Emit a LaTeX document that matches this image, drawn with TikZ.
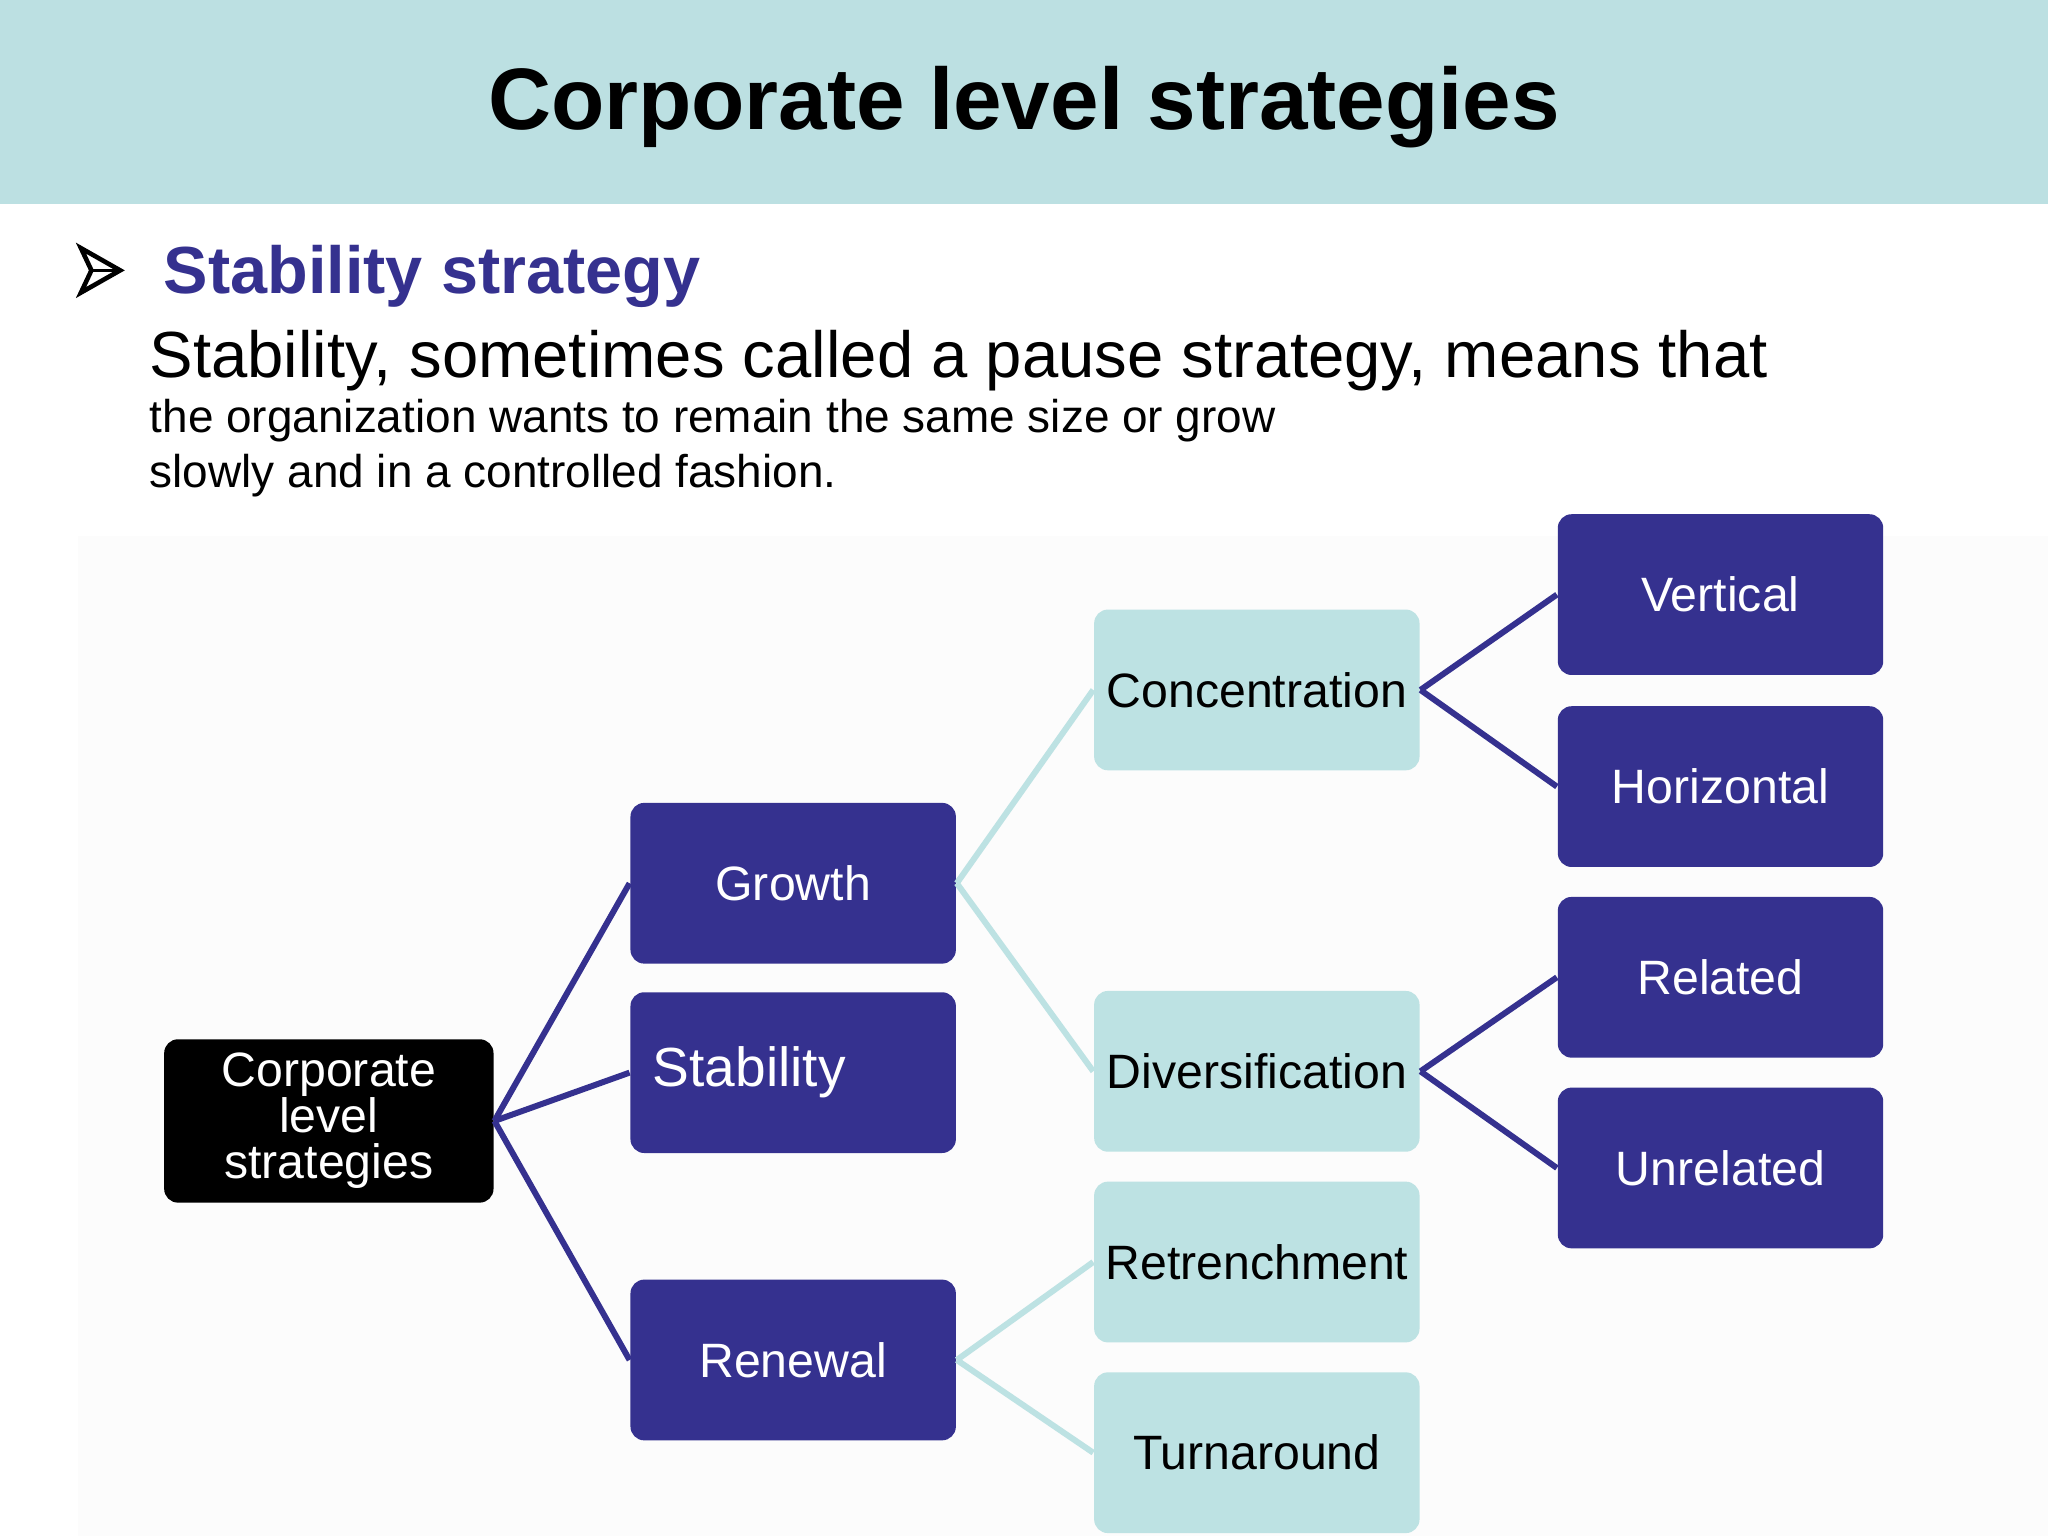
\documentclass[tikz,border=0pt]{standalone}
\usepackage{fontspec}
\setmainfont{Liberation Sans}
\definecolor{dblue}{HTML}{35318F}
\definecolor{lteal}{HTML}{BDE2E3}
\definecolor{band}{HTML}{BCE0E2}
\tikzset{
  px/.style={x=0.01cm,y=-0.01cm},
  bx/.style={rectangle,rounded corners=3pt,minimum width=2.49cm,minimum height=1.23cm,anchor=north west,font=\fontsize{10.5}{12}\selectfont,inner sep=0pt},
  dbox/.style={bx,fill=dblue,text=white},
  lbox/.style={bx,fill=lteal,text=black},
  dline/.style={draw=dblue,line width=1.3pt},
  lline/.style={draw=lteal,line width=1.3pt}
}
\begin{document}
\begin{tikzpicture}[px]
\useasboundingbox (0,0) rectangle (1568,1176);
\fill[white] (0,0) rectangle (1568,1176);
\fill[black!1] (60,410) rectangle (1568,1176);
\fill[band] (0,0) rectangle (1568,156);
\node (title) at (784,82) {\fontsize{19}{22}\selectfont\bfseries Corporate level strategies};
\draw[line width=1pt,fill=white,line join=miter] (62,190) -- (92,207) -- (62,224) -- (70,207) -- cycle;
\draw[line width=0.8pt] (70,207) -- (92,207);
\node[anchor=west,text=dblue] (sub) at (113,212) {\fontsize{14.5}{16}\selectfont\bfseries Stability strategy};
\node[anchor=north west,inner sep=0pt,align=left] (body) at (114,252) {\fontsize{14.2}{14.2}\selectfont Stability, sometimes called a pause strategy, means that\\the organization wants to remain the same size or grow\\slowly and in a controlled fashion.};
\node[dbox,fill=black,minimum width=2.52cm,minimum height=1.25cm,align=center] (corp) at (125,795) {Corporate\\[-2pt]level\\[-2pt]strategies};
\node[dbox] (growth) at (482,614) {Growth};
\node[dbox,text width=2.15cm,align=left] (stab) at (482,759) {\fontsize{12}{14}\selectfont Stability};
\node[dbox] (renew) at (482,979) {Renewal};
\node[lbox] (conc) at (837,466) {Concentration};
\node[lbox] (div) at (837,758) {Diversification};
\node[lbox] (retr) at (837,904) {Retrenchment};
\node[lbox] (turn) at (837,1050) {Turnaround};
\node[dbox] (vert) at (1192,393) {Vertical};
\node[dbox] (hor) at (1192,540) {Horizontal};
\node[dbox] (rel) at (1192,686) {Related};
\node[dbox] (unr) at (1192,832) {Unrelated};
\draw[dline] (corp.east) -- (growth.west);
\draw[dline] (corp.east) -- (stab.west);
\draw[dline] (corp.east) -- (renew.west);
\draw[lline] (growth.east) -- (conc.west);
\draw[lline] (growth.east) -- (div.west);
\draw[lline] (renew.east) -- (retr.west);
\draw[lline] (renew.east) -- (turn.west);
\draw[dline] (conc.east) -- (vert.west);
\draw[dline] (conc.east) -- (hor.west);
\draw[dline] (div.east) -- (rel.west);
\draw[dline] (div.east) -- (unr.west);
\end{tikzpicture}
\end{document}
